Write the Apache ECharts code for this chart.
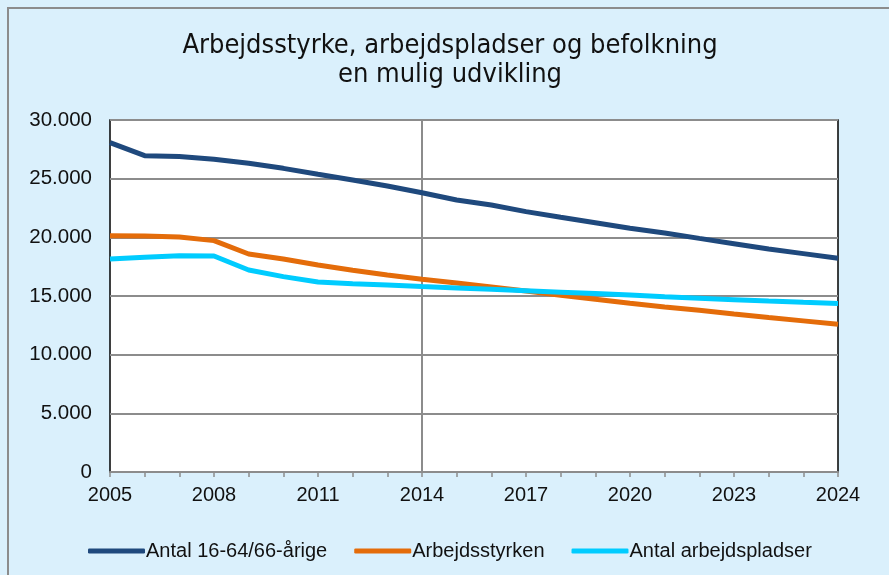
<!DOCTYPE html>
<html>
<head>
<meta charset="utf-8">
<script src="https://cdn.jsdelivr.net/npm/echarts@6/dist/echarts.min.js"></script>
<style>
  html, body { margin: 0; padding: 0; background: #fff; }
  #chart { width: 889px; height: 575px; }
</style>
</head>
<body>
<div id="chart"></div>
<script>
// 22 tick positions on the x axis, labelled every third one
const categories = ['2005', '2006', '2007', '2008', '2009', '2010', '2011', '2012', '2013', '2014', '2015',
  '2016', '2017', '2018', '2019', '2020', '2021', '2022', '2023', '2024', '2025', '2026']
const tickLabels = ['2005', '2008', '2011', '2014', '2017', '2020', '2023', '2024']

const befolkning = [28070, 26960, 26880, 26650, 26310, 25880, 25370, 24890, 24380, 23800, 23180,
  22760, 22190, 21710, 21250, 20770, 20370, 19910, 19460, 19010, 18610, 18210]
const arbejdsstyrken = [20140, 20110, 20030, 19720, 18580, 18150, 17640, 17190, 16790, 16420, 16110,
  15770, 15430, 15070, 14730, 14380, 14070, 13780, 13470, 13170, 12880, 12590]
const arbejdspladser = [18150, 18300, 18440, 18410, 17220, 16650, 16190, 16050, 15940, 15800, 15690,
  15570, 15450, 15330, 15210, 15090, 14930, 14810, 14690, 14570, 14460, 14370]

const seriesNames = ['Antal 16-64/66-årige', 'Arbejdsstyrken', 'Antal arbejdspladser']
const colors = ['#1f497d', '#e46c0a', '#00ccff']

const chart = echarts.init(document.getElementById('chart'))

const fmt = v => String(v).replace(/\B(?=(\d{3})+(?!\d))/g, '.')

const line = (name, data, color) => ({
  name: name,
  type: 'line',
  data: data,
  symbol: 'none',
  smooth: false,
  lineStyle: { color: color, width: 5 },
  itemStyle: { color: color },
  animation: false
})

chart.setOption({
  backgroundColor: '#daf0fc',
  textStyle: { fontFamily: 'Liberation Sans' },
  graphic: [{
    type: 'rect',
    shape: { x: 8, y: 8, width: 900, height: 600 },
    style: { fill: 'none', stroke: '#8c8c8c', lineWidth: 2 },
    z: 10
  }, {
    // title drawn as text so it can sit slightly right of centre like the original
    type: 'text',
    x: 450,
    y: 31,
    style: {
      text: 'Arbejdsstyrke, arbejdspladser og befolkning\nen mulig udvikling',
      font: '27px "DejaVu Sans Condensed"',
      textAlign: 'center',
      lineHeight: 29,
      fill: '#111'
    }
  }],
  legend: {
    data: seriesNames,
    left: 83,
    top: 536,
    itemWidth: 57,
    itemHeight: 5,
    itemGap: 27,
    icon: 'roundRect',
    textStyle: { fontSize: 20, color: '#111', padding: [0, 0, 0, -4] }
  },
  grid: {
    left: 110,
    right: 51,
    top: 120,
    bottom: 103,
    show: true,
    backgroundColor: '#ffffff',
    borderColor: '#000',
    borderWidth: 1.5
  },
  xAxis: {
    type: 'category',
    data: categories,
    boundaryGap: false,
    axisLine: { lineStyle: { color: '#8c8c8c', width: 2 } },
    axisTick: { show: true, interval: 0, length: 5, lineStyle: { color: '#8c8c8c', width: 1.5 } },
    axisLabel: {
      interval: 2,
      margin: 13,
      fontSize: 20,
      color: '#111',
      formatter: (v, i) => tickLabels[i / 3]
    },
    splitLine: {
      show: true,
      interval: (i) => i === 9,
      lineStyle: { color: '#8c8c8c', width: 2 }
    }
  },
  yAxis: {
    type: 'value',
    min: 0,
    max: 30000,
    interval: 5000,
    axisLine: { show: false },
    axisTick: { show: false },
    axisLabel: { fontSize: 20.5, color: '#111', margin: 18, formatter: fmt },
    splitLine: { lineStyle: { color: '#8c8c8c', width: 2 } }
  },
  series: [
    line(seriesNames[0], befolkning, colors[0]),
    line(seriesNames[1], arbejdsstyrken, colors[1]),
    line(seriesNames[2], arbejdspladser, colors[2])
  ]
})
</script>
</body>
</html>
